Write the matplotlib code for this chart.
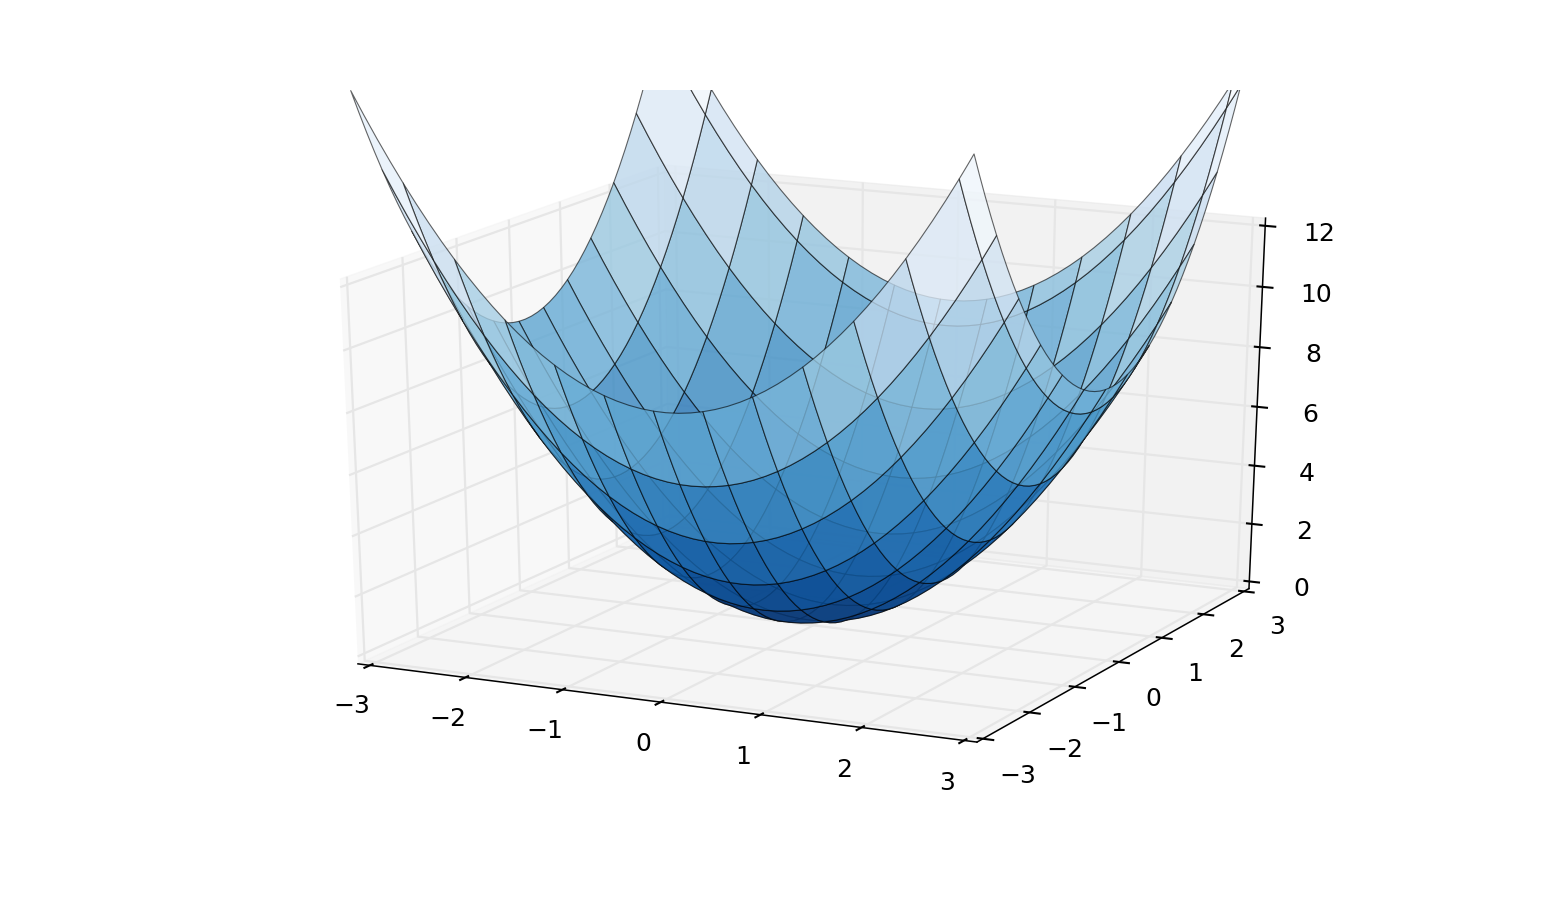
import matplotlib
matplotlib.use("Agg")
import matplotlib.pyplot as plt
from matplotlib.colors import ListedColormap
import numpy as np
from mpl_toolkits.mplot3d import Axes3D

x_values = [-3.0, -2.879, -2.758, -2.636, -2.515, -2.394, -2.273, -2.152, -2.03, -1.909, -1.788,
            -1.667, -1.545, -1.424, -1.303, -1.182, -1.061, -0.939, -0.818, -0.697, -0.576, -0.455,
            -0.333, -0.212, -0.091, 0.03, 0.152, 0.273, 0.394, 0.515, 0.636, 0.758, 0.879, 1.0,
            1.121, 1.242, 1.364, 1.485, 1.606, 1.727, 1.848, 1.97, 2.091, 2.212, 2.333, 2.455,
            2.576, 2.697, 2.818, 2.851, 2.884, 2.917, 2.95]
squares = [9.0, 8.289, 7.606, 6.949, 6.325, 5.731, 5.167, 4.631, 4.121, 3.644, 3.197,
           2.779, 2.387, 2.028, 1.698, 1.397, 1.126, 0.882, 0.669, 0.486, 0.332, 0.207,
           0.111, 0.045, 0.008, 0.001, 0.023, 0.075, 0.155, 0.265, 0.404, 0.575, 0.773, 1.0,
           1.257, 1.543, 1.86, 2.205, 2.579, 2.983, 3.415, 3.881, 4.372, 4.893, 5.443, 6.027,
           6.636, 7.274, 7.941, 8.129, 8.317, 8.509, 8.703]
ticks_xy = [-3, -2, -1, 0, 1, 2, 3]
ticks_z = [0, 2, 4, 6, 8, 10, 12]

plt.style.use('classic')
plt.rcParams['font.family'] = 'DejaVu Sans'
fig = plt.figure(figsize=(15.55, 9), dpi=100, facecolor='white')
ax = fig.add_axes([0.125, 0.1, 0.775, 0.8], projection='3d')
ax.apply_aspect = lambda position=None: None
ax.set_box_aspect((1, 1, 1), zoom=1.0417 / 1.1)
ax.view_init(elev=21.5, azim=-64)
X = np.array(x_values)
S = np.array(squares)
Z = S[None, :] + S[:, None]
XX, YY = np.meshgrid(X, X)
rgba = plt.get_cmap('Blues_r')(np.arange(256))
rgba[:, 3] = 0.8
ax.plot_surface(XX, YY, Z, rstride=4, cstride=4, cmap=ListedColormap(rgba), linewidth=0.8,
                edgecolor=(0, 0, 0, 0.6))
ax.set_xlim(-3.125, 3.125); ax.set_ylim(-3.125, 3.125); ax.set_zlim(-0.25, 12.25)
ax.set_xticks(ticks_xy); ax.set_yticks(ticks_xy); ax.set_zticks(ticks_z)
ax.tick_params(labelsize=18)
ax.tick_params(axis='x', pad=12)
ax.tick_params(axis='y', pad=12)
ax.tick_params(axis='z', pad=14)
for axis in (ax.xaxis, ax.yaxis, ax.zaxis):
    axis.line.set_linewidth(1.1)
    axis._axinfo['grid'].update(color=(0.9, 0.9, 0.9, 1), linewidth=1.6)
    axis._axinfo['tick']['linewidth'] = {True: 1.5, False: 1.0}
fig.savefig('out.png', dpi=100)
